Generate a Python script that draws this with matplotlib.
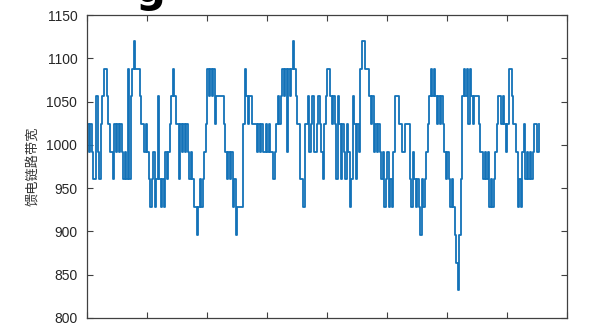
import matplotlib
matplotlib.use('Agg')
from matplotlib import pyplot as plt
import numpy as np

# feeder link bandwidth, one value per sample
bandwidth = [
    1024, 992, 1024, 992, 960, 960, 1056, 992, 960, 1024,
    1056, 1088, 1088, 1056, 1024, 992, 992, 960, 1024, 992,
    1024, 992, 1024, 992, 960, 992, 960, 1088, 960, 1056,
    1088, 1120, 1088, 1088, 1088, 1056, 1024, 1024, 992, 1024,
    992, 960, 928, 960, 992, 928, 960, 1056, 960, 928,
    960, 928, 992, 960, 992, 1024, 1056, 1088, 1056, 1024,
    1024, 960, 1024, 992, 1024, 992, 1024, 992, 960, 992,
    960, 928, 928, 896, 928, 960, 928, 960, 992, 1024,
    1088, 1056, 1088, 1056, 1088, 1024, 1056, 1056, 1056, 1056,
    1056, 1024, 992, 960, 992, 960, 992, 928, 960, 896,
    928, 928, 928, 928, 1024, 1088, 1056, 1024, 1056, 1056,
    1024, 1024, 1024, 992, 1024, 992, 1024, 992, 992, 1024,
    992, 1024, 992, 992, 960, 992, 1024, 1056, 1024, 1056,
    1088, 1056, 1088, 992, 1088, 1056, 1088, 1120, 1088, 1056,
    1024, 1024, 960, 960, 928, 1024, 1024, 1056, 992, 1024,
    1056, 992, 992, 1024, 1056, 1024, 992, 960, 1024, 1056,
    1088, 1088, 1056, 1024, 1056, 1024, 960, 1056, 1024, 960,
    1024, 992, 960, 1024, 992, 928, 960, 1056, 1024, 960,
    1024, 992, 1088, 1120, 1120, 1088, 1088, 1088, 1056, 1024,
    1056, 992, 1024, 992, 1024, 992, 960, 992, 928, 960,
    992, 928, 960, 928, 992, 1056, 1056, 1056, 1024, 1024,
    992, 992, 1024, 1024, 1024, 960, 928, 992, 960, 928,
    960, 928, 896, 960, 928, 960, 992, 1024, 1056, 1088,
    1056, 1088, 1056, 1024, 1056, 1024, 1056, 1024, 992, 960,
    992, 960, 928, 960, 928, 896, 864, 832, 896, 960,
    1056, 1088, 1056, 1088, 1024, 1088, 1056, 1024, 1056, 1056,
    1056, 1024, 992, 992, 960, 992, 960, 992, 928, 960,
    928, 960, 992, 1024, 1056, 1056, 1024, 1056, 1024, 992,
    1024, 1088, 1088, 1056, 1024, 1024, 992, 928, 960, 928,
    992, 1024, 960, 992, 960, 992, 960, 992, 1024, 1024,
    992, 1024,
]
y_ticks = [800, 850, 900, 950, 1000, 1050, 1100, 1150]
ylabel = '馈电链路带宽'

samples = np.arange(len(bandwidth))

fig = plt.figure(figsize=(5.9, 3.23), dpi=100)
ax = fig.add_axes([0.1475, 0.0155, 0.8136, 0.938])
ax.plot(samples, bandwidth, drawstyle='steps-post', color='#1372b8', lw=1.3)

ax.set_xlim(0, 320)
ax.set_ylim(800, 1150)
ax.set_xticks(np.arange(0, 321, 40))
ax.set_xticklabels([])
ax.set_yticks(y_ticks)
ax.set_yticklabels([str(v) for v in y_ticks], fontsize=10, family='Liberation Sans',
                   color='#262626')
ax.tick_params(direction='in', length=4, width=0.8, top=True, right=True, colors='#404040',
               labelcolor='#262626', pad=7)
for sp in ax.spines.values():
    sp.set_color('#404040')
    sp.set_linewidth(0.9)

ax.set_ylabel(ylabel, family=['Noto Sans CJK SC', 'DejaVu Sans'], fontsize=9.5, color='#333333',
              labelpad=5)

# cut-off title glyph at the top edge
fig.text(0.254, 0.994, 'g', fontsize=30, fontweight='bold', ha='center', va='baseline')

plt.savefig('out.png', dpi=100)
